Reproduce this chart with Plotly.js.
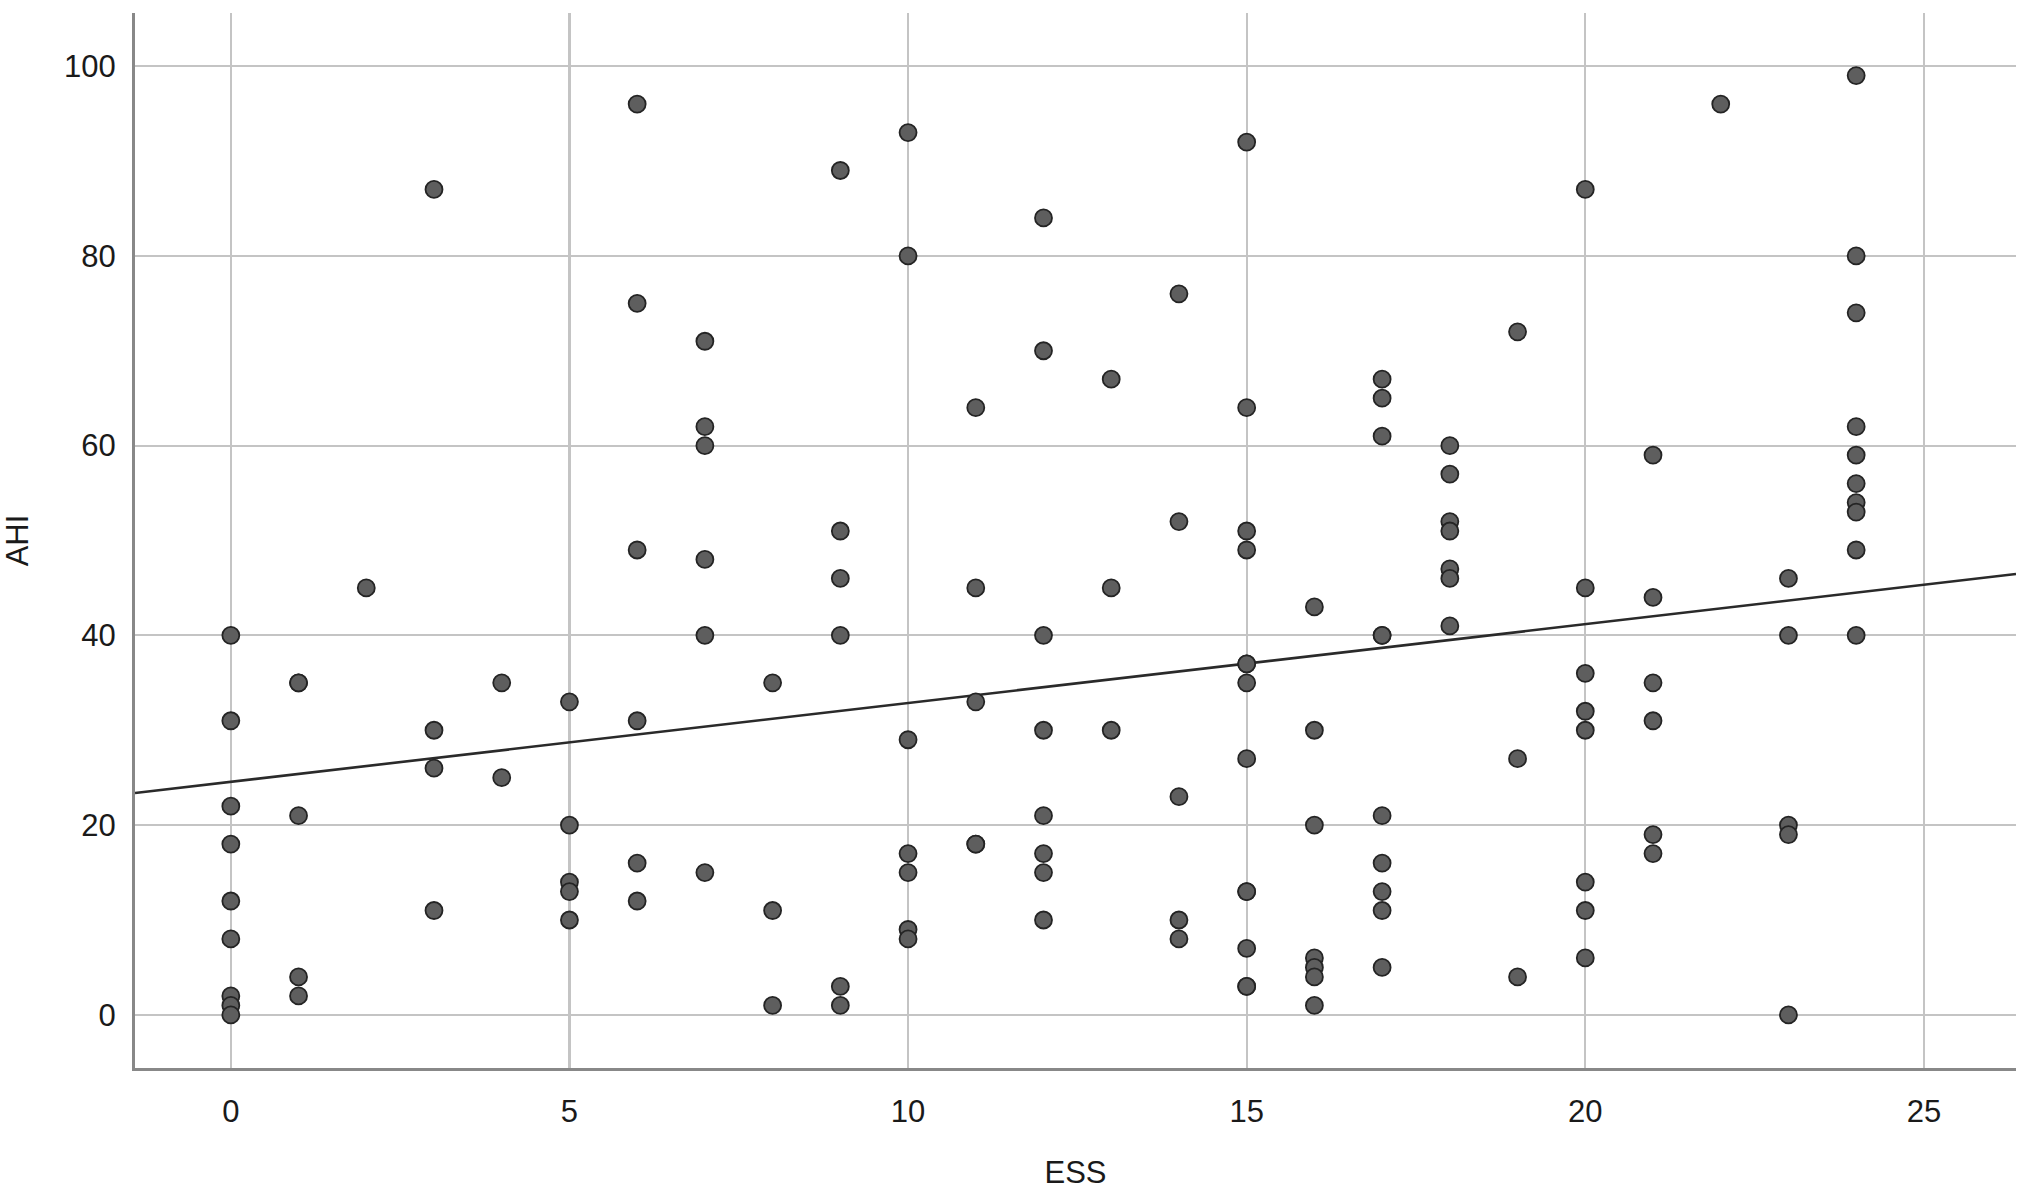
<!DOCTYPE html>
<html>
<head>
<meta charset="utf-8">
<script src="https://cdn.plot.ly/plotly-3.0.1.min.js"></script>
<style>
  html, body { margin: 0; padding: 0; background: #ffffff; }
  #chart { width: 2032px; height: 1194px; }
</style>
</head>
<body>
<div id="chart"></div>
<script>
// ESS score values (x) present in the chart
const essLevels = [0, 1, 2, 3, 4, 5, 6, 7, 8, 9, 10, 11, 12, 13, 14, 15, 16, 17, 18, 19, 20, 21, 22, 23, 24];

// AHI values observed at each ESS level (same order as essLevels)
const ahiByEss = [
  [40, 31, 22, 18, 12, 8, 2, 1, 0],
  [35, 35, 21, 4, 2],
  [45],
  [87, 30, 26, 11],
  [35, 25],
  [33, 20, 14, 13, 10],
  [96, 75, 49, 31, 16, 12],
  [71, 62, 60, 48, 40, 15],
  [35, 11, 1],
  [89, 51, 46, 40, 3, 1],
  [93, 80, 29, 17, 15, 9, 8],
  [64, 45, 33, 18, 18],
  [84, 70, 40, 30, 21, 17, 15, 10],
  [67, 45, 30],
  [76, 52, 23, 10, 8],
  [92, 64, 51, 49, 37, 37, 35, 27, 13, 13, 7, 3, 3],
  [43, 30, 20, 6, 5, 4, 1],
  [67, 65, 61, 40, 40, 21, 16, 13, 11, 5],
  [60, 57, 52, 51, 47, 46, 41],
  [72, 27, 4],
  [87, 45, 36, 32, 30, 14, 11, 6],
  [59, 44, 35, 31, 19, 17],
  [96],
  [46, 40, 20, 19, 0],
  [99, 80, 74, 62, 59, 56, 54, 53, 49, 40]
];

const xTickValues = [0, 5, 10, 15, 20, 25];
const yTickValues = [0, 20, 40, 60, 80, 100];
const xTitle = 'ESS';
const yTitle = 'AHI';

// flatten into point lists
const essPoints = [];
const ahiPoints = [];
essLevels.forEach((e, i) => {
  ahiByEss[i].forEach(v => { essPoints.push(e); ahiPoints.push(v); });
});

// ordinary least squares fit line
const n = essPoints.length;
const mx = essPoints.reduce((a, b) => a + b, 0) / n;
const my = ahiPoints.reduce((a, b) => a + b, 0) / n;
let sxy = 0, sxx = 0;
for (let i = 0; i < n; i++) {
  sxy += (essPoints[i] - mx) * (ahiPoints[i] - my);
  sxx += (essPoints[i] - mx) * (essPoints[i] - mx);
}
const slope = sxy / sxx;
const intercept = my - slope * mx;

const xRange = [-1.415, 26.36];
const yRange = [-5.6, 105.6];
const fitX = [xRange[0], xRange[1]];
const fitY = fitX.map(x => intercept + slope * x);

const fontFamily = '"Liberation Sans", Arial, Helvetica, sans-serif';
const textColor = '#1a1a1a';

const traces = [
  {
    type: 'scatter',
    mode: 'lines',
    x: fitX,
    y: fitY,
    line: { color: '#2a2a2a', width: 2.6 },
    hoverinfo: 'skip',
    showlegend: false
  },
  {
    type: 'scatter',
    mode: 'markers',
    x: essPoints,
    y: ahiPoints,
    marker: {
      size: 17,
      color: '#5e5e5e',
      line: { color: '#242424', width: 1.8 }
    },
    showlegend: false
  }
];

const layout = {
  width: 2032,
  height: 1194,
  paper_bgcolor: '#ffffff',
  plot_bgcolor: '#ffffff',
  margin: { l: 135, r: 16, t: 13, b: 126, pad: 0 },
  font: { family: fontFamily, size: 31, color: textColor },
  showlegend: false,
  xaxis: {
    range: xRange,
    tickmode: 'array',
    tickvals: xTickValues,
    ticktext: xTickValues.map(String),
    ticks: '',
    showgrid: true,
    gridcolor: '#c4c4c4',
    gridwidth: 2.2,
    zeroline: false,
    showline: true,
    linecolor: '#888888',
    linewidth: 3,
    mirror: false,
    ticklabelstandoff: 14,
    tickfont: { family: fontFamily, size: 31, color: textColor },
    title: { text: xTitle, font: { family: fontFamily, size: 31, color: textColor }, standoff: 34 },
    automargin: false
  },
  yaxis: {
    range: yRange,
    tickmode: 'array',
    tickvals: yTickValues,
    ticktext: yTickValues.map(String),
    ticks: '',
    showgrid: true,
    gridcolor: '#c4c4c4',
    gridwidth: 2.2,
    zeroline: false,
    showline: true,
    linecolor: '#888888',
    linewidth: 3,
    mirror: false,
    ticklabelstandoff: 10,
    tickfont: { family: fontFamily, size: 31, color: textColor },
    title: { text: yTitle, font: { family: fontFamily, size: 31, color: textColor }, standoff: 30 },
    automargin: false
  }
};

Plotly.newPlot('chart', traces, layout, { displayModeBar: false, staticPlot: true });
</script>
</body>
</html>
